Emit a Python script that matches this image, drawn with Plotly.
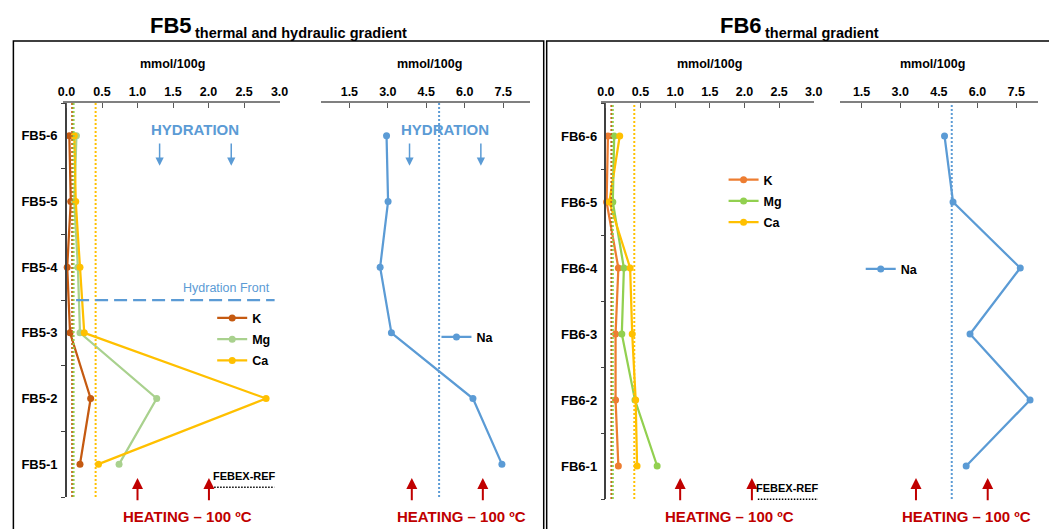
import plotly.graph_objects as go

W, H = 1049, 529
FONT = "Liberation Sans, Arial, sans-serif"

# sample positions, listed from the heater side (-1) to the hydration side (-6)
samples_fb5 = ["FB5-1", "FB5-2", "FB5-3", "FB5-4", "FB5-5", "FB5-6"]
samples_fb6 = ["FB6-1", "FB6-2", "FB6-3", "FB6-4", "FB6-5", "FB6-6"]

# soluble cations, mmol/100g
fb5_k = [0.19, 0.34, 0.05, 0.01, 0.06, 0.04]
fb5_mg = [0.74, 1.27, 0.19, 0.16, 0.11, 0.14]
fb5_ca = [0.45, 2.81, 0.25, 0.19, 0.13, 0.11]
fb5_na = [7.45, 6.32, 3.14, 2.70, 3.01, 2.95]

fb6_k = [0.18, 0.14, 0.14, 0.18, 0.01, 0.03]
fb6_mg = [0.74, 0.42, 0.23, 0.26, 0.10, 0.12]
fb6_ca = [0.45, 0.43, 0.38, 0.35, 0.05, 0.20]
fb6_na = [5.56, 8.04, 5.71, 7.66, 5.05, 4.72]

# FEBEX reference bentonite
ref_k, ref_mg, ref_ca, ref_na = 0.08, 0.10, 0.41, 5.0

ticks_main = [0.0, 0.5, 1.0, 1.5, 2.0, 2.5, 3.0]
ticks_na = [1.5, 3.0, 4.5, 6.0, 7.5]

C_K5, C_MG5, C_CA, C_NA = "#C55A11", "#A9D18E", "#FFC000", "#5B9BD5"
C_K6, C_MG6 = "#ED7D31", "#92D050"
C_MGREF = "#92D050"
RED = "#C00000"


def X(px):
    return px / W


def Y(py):
    return 1 - py / H


fig = go.Figure()


def series(x, y, name, color, xa, ya, legend):
    fig.add_trace(go.Scatter(
        x=x, y=y, name=name, mode="lines+markers",
        line=dict(color=color, width=2.25),
        marker=dict(color=color, size=7),
        xaxis=xa, yaxis=ya, legend=legend, legendgroup=f"{legend}-{name}",
    ))


series(fb5_k, samples_fb5, "K", C_K5, "x", "y", "legend")
series(fb5_mg, samples_fb5, "Mg", C_MG5, "x", "y", "legend")
series(fb5_ca, samples_fb5, "Ca", C_CA, "x", "y", "legend")
series(fb5_na, samples_fb5, "Na", C_NA, "x2", "y", "legend2")

series(fb6_k, samples_fb6, "K", C_K6, "x3", "y3", "legend3")
series(fb6_mg, samples_fb6, "Mg", C_MG6, "x3", "y3", "legend3")
series(fb6_ca, samples_fb6, "Ca", C_CA, "x3", "y3", "legend3")
series(fb6_na, samples_fb6, "Na", C_NA, "x4", "y3", "legend4")

tickfont = dict(family=FONT, size=12.5, color="black", weight="bold")


def xaxis_cfg(px0, px1, rng, tv, anchor):
    return dict(
        domain=[X(px0), X(px1)], range=rng, side="top", anchor=anchor,
        tickvals=tv, ticktext=[f"{v:.1f}" for v in tv],
        ticks="inside", ticklen=5, tickwidth=1.2, tickcolor="#595959",
        showline=True, linecolor="#808080", linewidth=1.5,
        showgrid=False, zeroline=False, tickfont=tickfont, fixedrange=True,
    )


def yaxis_cfg(py0, py1, cats, pos):
    return dict(
        domain=[Y(py1), Y(py0)], type="category", categoryarray=cats,
        categoryorder="array", range=[-0.5, 5.5], anchor="free", position=X(pos),
        tickson="boundaries", ticks="outside", ticklen=4, tickwidth=1.2,
        tickcolor="#404040", showline=True, linecolor="#404040", linewidth=1.5,
        showgrid=False, zeroline=False, ticklabelstandoff=5,
        tickfont=dict(family=FONT, size=13, color="black", weight="bold"),
        fixedrange=True,
    )


fig.update_layout(
    xaxis=xaxis_cfg(58.3, 278.3, [-0.056, 3.0], ticks_main, "y"),
    xaxis2=xaxis_cfg(320.7, 531.7, [0.41, 8.53], ticks_na, "y"),
    xaxis3=xaxis_cfg(604.3, 819.7, [-0.067, 3.0], ticks_main, "y3"),
    xaxis4=xaxis_cfg(846, 1047, [0.65, 8.35], ticks_na, "y3"),
    yaxis=yaxis_cfg(103, 497, samples_fb5, 61.7),
    yaxis3=yaxis_cfg(103, 499, samples_fb6, 608.6),
)

shapes = []


def vref(xval, xa, ya, color):
    shapes.append(dict(type="line", xref=xa, yref=f"{ya} domain",
                       x0=xval, x1=xval, y0=0, y1=1,
                       line=dict(color=color, width=2, dash="2px,2px")))


for xa, ya in (("x", "y"), ("x3", "y3")):
    vref(ref_k, xa, ya, C_K5)
    vref(ref_mg, xa, ya, C_MGREF)
    vref(ref_ca, xa, ya, C_CA)
vref(ref_na, "x2", "y", C_NA)
vref(ref_na, "x4", "y3", C_NA)

# hydration front between FB5-3 and FB5-4
shapes.append(dict(type="line", xref="x", yref="y", x0=0.135, x1=2.93, y0=2.5, y1=2.5,
                   line=dict(color=C_NA, width=2.25, dash="13px,6px")))

# FEBEX-REF key lines
for x0, x1, yy in ((212, 273, 487.3), (763, 824, 499.3)):
    shapes.append(dict(type="line", xref="paper", yref="paper",
                       x0=X(x0), x1=X(x1), y0=Y(yy), y1=Y(yy),
                       line=dict(color="black", width=1.5, dash="1.5px,1.5px")))

# panel frames
shapes.append(dict(type="rect", xref="paper", yref="paper",
                   x0=X(8.5), x1=X(546), y0=Y(545), y1=Y(41),
                   line=dict(color="black", width=1.5)))
shapes.append(dict(type="rect", xref="paper", yref="paper",
                   x0=X(549), x1=X(1060), y0=Y(545), y1=Y(41),
                   line=dict(color="black", width=1.5)))

ann = []


def text(px, py, s, size, color="black", bold=True, xanchor="center"):
    ann.append(dict(x=X(px), y=Y(py), xref="paper", yref="paper", text=s,
                    showarrow=False, xanchor=xanchor, yanchor="middle",
                    font=dict(family=FONT, size=size, color=color,
                              weight="bold" if bold else "normal")))


def arrow(px, head, tail, color, width):
    ann.append(dict(x=X(px), y=Y(head), xref="paper", yref="paper", text="",
                    showarrow=True, ax=0, ay=tail - head, axref="pixel", ayref="pixel",
                    arrowhead=2, arrowsize=1.1, arrowwidth=width, arrowcolor=color))


# titles
text(168.7, 25.5, "FB5", 22)
text(191, 32.5, "thermal and hydraulic gradient", 14.5, xanchor="left")
text(746, 25.5, "FB6", 22)
text(768, 32.5, "thermal gradient", 14.5, xanchor="left")

for cx in (170, 430, 714.5, 940):
    text(cx, 64, "mmol/100g", 12.5)

# hydration side
for cx in (193, 445.7):
    text(cx, 129, "HYDRATION", 15, color=C_NA)
for px in (156.7, 229.3, 410, 482.3):
    arrow(px, 165.7, 142, C_NA, 1.5)
text(225, 288.3, "Hydration Front", 12.5, color=C_NA, bold=False)

# heater side
for cx in (185, 462.7, 734.7, 974):
    text(cx, 516.7, "HEATING – 100 ºC", 15, color=RED)
for px in (134.3, 206.7, 412.3, 484.3, 684.3, 757, 923.3, 996):
    arrow(px, 478, 501.7, RED, 2)

text(242.5, 475.7, "FEBEX-REF", 11)
text(793.5, 488.3, "FEBEX-REF", 11)

legend_font = dict(family=FONT, size=12.5, color="black", weight="bold")


def legend_cfg(text_left, first_center):
    return dict(x=X(text_left - 40), xanchor="left", y=Y(first_center - 15), yanchor="top",
                bgcolor="rgba(0,0,0,0)", borderwidth=0, font=legend_font,
                tracegroupgap=2, itemclick=False, itemdoubleclick=False)


fig.update_layout(
    legend=legend_cfg(250, 318.3),
    legend2=legend_cfg(477.3, 337.3),
    legend3=legend_cfg(768.3, 180),
    legend4=legend_cfg(907.3, 269.3),
)

fig.update_layout(
    width=W, height=H, autosize=False,
    margin=dict(l=0, r=0, t=0, b=0),
    paper_bgcolor="white", plot_bgcolor="white",
    shapes=shapes, annotations=ann,
)

fig.write_html("out.html", config={"displayModeBar": False})
